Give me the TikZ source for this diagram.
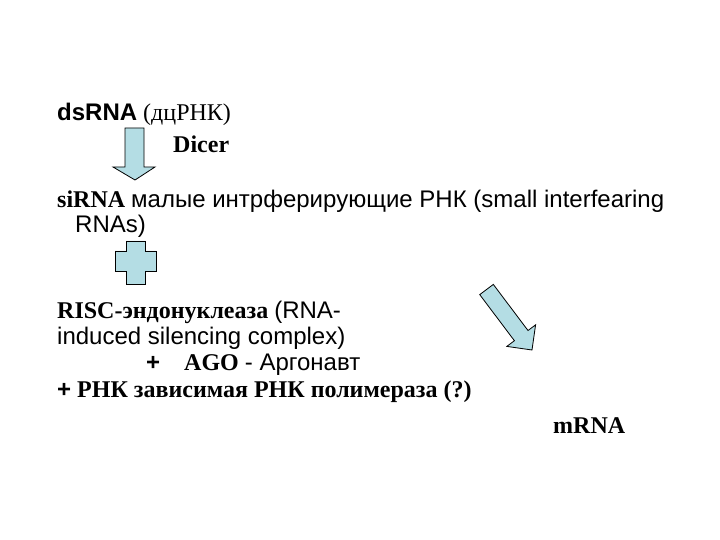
\documentclass[tikz,border=0pt]{standalone}
\usepackage{fontspec}
\setmainfont{Liberation Serif}
\newfontfamily\arial{Liberation Sans}
\definecolor{arrowblue}{RGB}{180,221,228}
\begin{document}
\begin{tikzpicture}[x=1bp,y=-1bp,
  blockshape/.style={draw=black, line width=0.8bp, fill=arrowblue, line join=miter},
  txt/.style={anchor=base west, inner sep=0pt, font=\fontsize{24bp}{28bp}\selectfont}]
\useasboundingbox[fill=white] (0,0) rectangle (720,540);

% texts
\node[txt] (ds) at (57,121) {{\arial\bfseries dsRNA} (дцРНК)};
\node[txt] (dicer) at (173,153) {\bfseries Dicer};
\node[txt] (si) at (57,208) {{\bfseries siRNA} {\arial малые интрферирующие РНК (small interfearing}};
\node[txt] (rnas) at (75,233) {\arial RNAs)};
\node[txt] (risc) at (57,318) {{\bfseries RISC-эндонуклеаза} {\arial (RNA-}};
\node[txt] (induced) at (57,344) {\arial induced silencing complex)};
\node[txt] (ago) at (146,370) {{\arial\bfseries +}\hspace{1em}{\bfseries AGO} {\arial - Аргонавт}};
\node[txt] (pol) at (57,397) {{\arial\bfseries +} \bfseries РНК зависимая РНК полимераза (?)};
\node[txt] (mrna) at (553,433) {\bfseries mRNA};

% down arrow
\draw[blockshape] (125,128) -- (144,128) -- (144,167) -- (155,167) -- (135,180) -- (113,167) -- (125,167) -- cycle;
% cross
\draw[blockshape] (126,241) -- (145,241) -- (145,251) -- (156,251) -- (156,271) -- (145,271) -- (145,284)
  -- (126,284) -- (126,271) -- (115,271) -- (115,251) -- (126,251) -- cycle;
% diagonal arrow
\draw[blockshape] (493.3,284.4) -- (528.0,330.5) -- (535.6,324.8) -- (532,350) -- (506.8,346.4) -- (514.4,340.7) -- (479.7,294.6) -- cycle;
\end{tikzpicture}
\end{document}
